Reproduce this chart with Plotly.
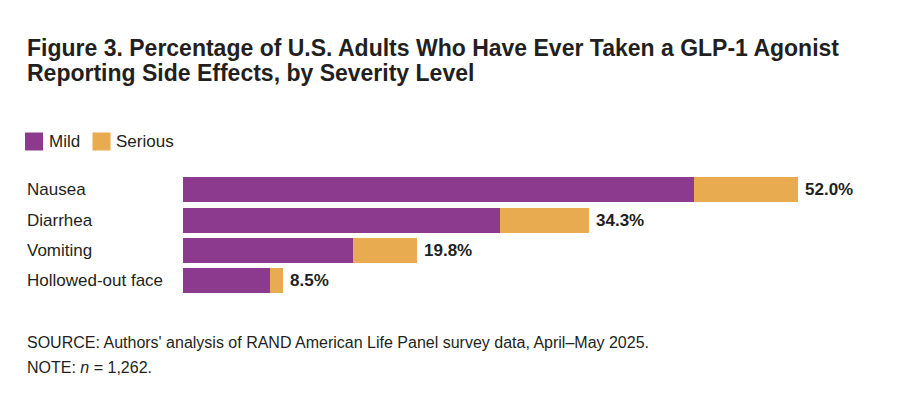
import plotly.graph_objects as go

categories = ["Nausea", "Diarrhea", "Vomiting", "Hollowed-out face"]
mild = [43.2, 26.8, 14.4, 7.4]
serious = [8.8, 7.5, 5.4, 1.1]
totals = [52.0, 34.3, 19.8, 8.5]
total_labels = ["52.0%", "34.3%", "19.8%", "8.5%"]
legend_names = ["Mild", "Serious"]

PURPLE = "#8C3A8E"
ORANGE = "#E8AB4F"
TXT = "#231F20"
W, H = 900, 413
FONT = "Liberation Sans, Arial, sans-serif"

fig = go.Figure()
fig.add_trace(go.Bar(y=categories, x=mild, orientation="h", marker_color=PURPLE,
                     marker_line_width=0, name=legend_names[0], showlegend=False))
fig.add_trace(go.Bar(y=categories, x=serious, orientation="h", marker_color=ORANGE,
                     marker_line_width=0, name=legend_names[1], showlegend=False))

x0 = 182.7 / W
x1 = (182.7 + 60 * 11.84) / W
fig.update_layout(
    width=W, height=H,
    margin=dict(l=0, r=0, t=0, b=0),
    paper_bgcolor="white", plot_bgcolor="white",
    barmode="stack", bargap=0.17,
    xaxis=dict(domain=[x0, x1], range=[0, 60], visible=False, fixedrange=True),
    yaxis=dict(domain=[1 - 295.55 / H, 1 - 174.75 / H], autorange="reversed",
               showticklabels=False, showgrid=False, zeroline=False, showline=False),
    showlegend=False,
    font=dict(family=FONT, color=TXT),
)

shapes = []
ann = []
# custom legend
leg = [(legend_names[0], PURPLE, 25, 47), (legend_names[1], ORANGE, 92.5, 114)]
for nm, col, sx, tx in leg:
    shapes.append(dict(type="rect", xref="paper", yref="paper", x0=sx / W, x1=(sx + 18) / W,
                       y0=1 - 150.5 / H, y1=1 - 132.5 / H, fillcolor=col, line_width=0))
    ann.append(dict(xref="paper", yref="paper", x=tx / W, y=1 - 141.5 / H, xanchor="left",
                    yanchor="middle", showarrow=False, text=nm,
                    font=dict(family=FONT, size=17, color=TXT)))

ann.append(dict(xref="paper", yref="paper", x=25 / W, y=1 - 63 / H, xanchor="left", yanchor="bottom",
                showarrow=False, align="left",
                text="<b>Figure 3.</b> <b>Percentage of U.S. Adults Who Have Ever Taken a GLP-1 Agonist</b>",
                font=dict(family=FONT, size=23, color=TXT)))
ann.append(dict(xref="paper", yref="paper", x=25 / W, y=1 - 88.5 / H, xanchor="left", yanchor="bottom",
                showarrow=False, align="left",
                text="<b>Reporting Side Effects, by Severity Level</b>",
                font=dict(family=FONT, size=23, color=TXT)))
for c in categories:
    ann.append(dict(xref="paper", yref="y", x=25 / W, y=c, xanchor="left", yanchor="middle",
                    showarrow=False, text=c,
                    font=dict(family=FONT, size=17, color=TXT)))
for c, t, lab in zip(categories, totals, total_labels):
    ann.append(dict(xref="x", yref="y", x=t, y=c, xanchor="left", yanchor="middle",
                    xshift=5, showarrow=False, text="<b>" + lab + "</b>",
                    font=dict(family=FONT, size=17, color=TXT)))
ann.append(dict(xref="paper", yref="paper", x=25 / W, y=1 - 342 / H, xanchor="left", yanchor="middle",
                showarrow=False,
                text="SOURCE: Authors' analysis of RAND American Life Panel survey data, April\u2013May 2025.",
                font=dict(family=FONT, size=16, color=TXT)))
ann.append(dict(xref="paper", yref="paper", x=25 / W, y=1 - 367 / H, xanchor="left", yanchor="middle",
                showarrow=False, text="NOTE: <i>n</i> = 1,262.",
                font=dict(family=FONT, size=16, color=TXT)))
fig.update_layout(annotations=ann, shapes=shapes)

fig.write_html("out.html", config={"displayModeBar": False},
               post_script="document.body.style.margin='0';document.body.style.padding='0';")
